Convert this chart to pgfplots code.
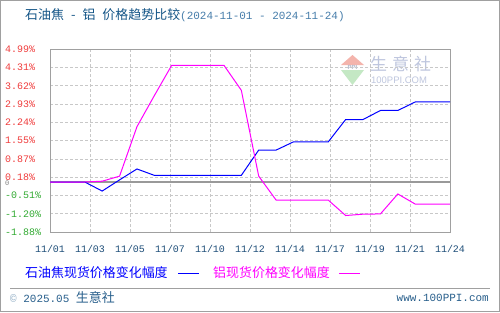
\documentclass[border=0pt]{standalone}
\usepackage{fontspec}
\usepackage{pgfplots}
\pgfplotsset{compat=1.18}
\setmainfont{Liberation Mono}
\newfontfamily\cjk{Noto Sans CJK SC}
\newfontfamily\sans{Liberation Sans}
\definecolor{tickred}{RGB}{240,60,60}
\definecolor{tickgreen}{RGB}{50,170,50}
\definecolor{xtickc}{RGB}{30,78,121}
\definecolor{titlec}{RGB}{20,85,135}
\definecolor{datec}{RGB}{70,125,170}
\definecolor{footc}{RGB}{40,95,140}
\definecolor{framec}{RGB}{160,160,160}
\definecolor{gridc}{RGB}{200,200,200}
\definecolor{mag}{RGB}{255,0,255}
\definecolor{blu}{RGB}{0,0,255}
\definecolor{wmtext}{RGB}{190,198,222}
\definecolor{wmred}{RGB}{244,180,172}
\definecolor{wmgreen}{RGB}{196,232,196}
\begin{document}
\begin{tikzpicture}[x=1bp,y=1bp]
\fill[white] (0,0) rectangle (500,312);
\draw[framec, line width=1.2bp] (0.6,0.6) rectangle (499.4,311.4);
% watermark
\fill[wmred] (341,247) -- (364,247) -- (352.5,257) -- cycle;
\fill[wmgreen] (341,242) -- (364,242) -- (352.5,227) -- cycle;
\node[anchor=center, inner sep=0, text=wmtext!80!gray] at (352.5,244.5) {\sans\fontsize{6}{6}\selectfont\bfseries PPI};
\node[anchor=west, inner sep=0, text=wmtext] at (370,248) {\cjk\fontsize{17}{18}\selectfont 生\hspace{5bp}意\hspace{5bp}社};
\node[anchor=west, inner sep=0, text=wmtext] at (371,232) {\sans\fontsize{9.5}{10}\selectfont 100PPI.COM};
\begin{axis}[
  at={(50bp,80bp)}, anchor=south west,
  scale only axis, width=400bp, height=182.7bp,
  xmin=0, xmax=23, ymin=-1.88, ymax=4.99,
  axis line style={draw=framec, line width=1bp},
  major tick length=0pt,
  grid=major,
  major grid style={draw=gridc, dash pattern=on 3bp off 2bp, line width=0.8bp},
  xtick={0,2.3,4.6,6.9,9.2,11.5,13.8,16.1,18.4,20.7,23},
  xticklabels={11/01,11/03,11/05,11/07,11/10,11/12,11/14,11/17,11/19,11/21,11/24},
  xticklabel style={anchor=center, inner sep=0pt, yshift=-17bp, text=xtickc, font=\fontsize{10}{10}\selectfont},
  ytick={4.99,4.303,3.616,2.929,2.242,1.555,0.868,0.181,-0.506,-1.193,-1.88},
  yticklabels={\textcolor{tickred}{4.99\%},\textcolor{tickred}{4.31\%},\textcolor{tickred}{3.62\%},\textcolor{tickred}{2.93\%},\textcolor{tickred}{2.24\%},\textcolor{tickred}{1.55\%},\textcolor{tickred}{0.87\%},\textcolor{tickred}{0.18\%},\textcolor{tickgreen}{-0.51\%},\textcolor{tickgreen}{-1.20\%},\textcolor{tickgreen}{-1.88\%}},
  yticklabel style={anchor=west, inner sep=0pt, xshift=-45bp, font=\fontsize{10}{10}\selectfont},
  /pgf/number format/assume math mode=true,
  clip=false,
]
\addplot[draw=gray!80, line width=1.3bp, forget plot] coordinates {(0,0) (23,0)};
\addplot[blu, line width=1bp, sharp plot] coordinates {
(0,0) (1,0) (2,0) (3,-0.34) (4,0.08) (5,0.49) (6,0.25) (7,0.25) (8,0.25) (9,0.25) (10,0.25) (11,0.25)
(12,1.20) (13,1.20) (14,1.51) (15,1.51) (16,1.51) (17,2.35) (18,2.35) (19,2.69) (20,2.69) (21,3.01) (22,3.01) (23,3.01)};
\addplot[mag, line width=1bp, sharp plot] coordinates {
(0,0) (1,0) (2,0) (3,0.03) (4,0.22) (5,2.08) (6,3.25) (7,4.39) (8,4.39) (9,4.39) (10,4.39) (11,3.45)
(12,0.22) (13,-0.68) (14,-0.68) (15,-0.68) (16,-0.68) (17,-1.26) (18,-1.21) (19,-1.20) (20,-0.45) (21,-0.83) (22,-0.83) (23,-0.83)};
\end{axis}
\node[anchor=west, inner sep=0, text=gray] at (5,129) {\fontsize{7}{7}\selectfont 0};
% title
\node[anchor=west, inner sep=0] at (25,297) {\textcolor{titlec}{\cjk\fontsize{13}{14}\selectfont 石油焦\hspace{7bp}-\hspace{7bp}铝\hspace{7bp}价格趋势比较}\textcolor{datec}{\fontsize{11}{12}\selectfont(2024-11-01 - 2024-11-24)}};
% legend
\node[anchor=west, inner sep=0, text=blu] at (25,39) {\cjk\fontsize{13}{14}\selectfont 石油焦现货价格变化幅度};
\draw[blu, line width=1bp] (178,39) -- (199,39);
\node[anchor=west, inner sep=0, text=mag] at (213,39) {\cjk\fontsize{13}{14}\selectfont 铝现货价格变化幅度};
\draw[mag, line width=1bp] (339,39) -- (360,39);
% footer
\draw[framec, line width=1bp] (10,24) -- (490,24);
\node[anchor=west, inner sep=0, text=footc] at (10,14) {\fontsize{11}{12}\selectfont\textcolor{footc!50}{©} 2025.05 {\cjk\fontsize{13}{14}\selectfont 生意社}};
\node[anchor=east, inner sep=0, text=footc] at (489,14) {\fontsize{11}{12}\selectfont www.100PPI.com};
\end{tikzpicture}
\end{document}
